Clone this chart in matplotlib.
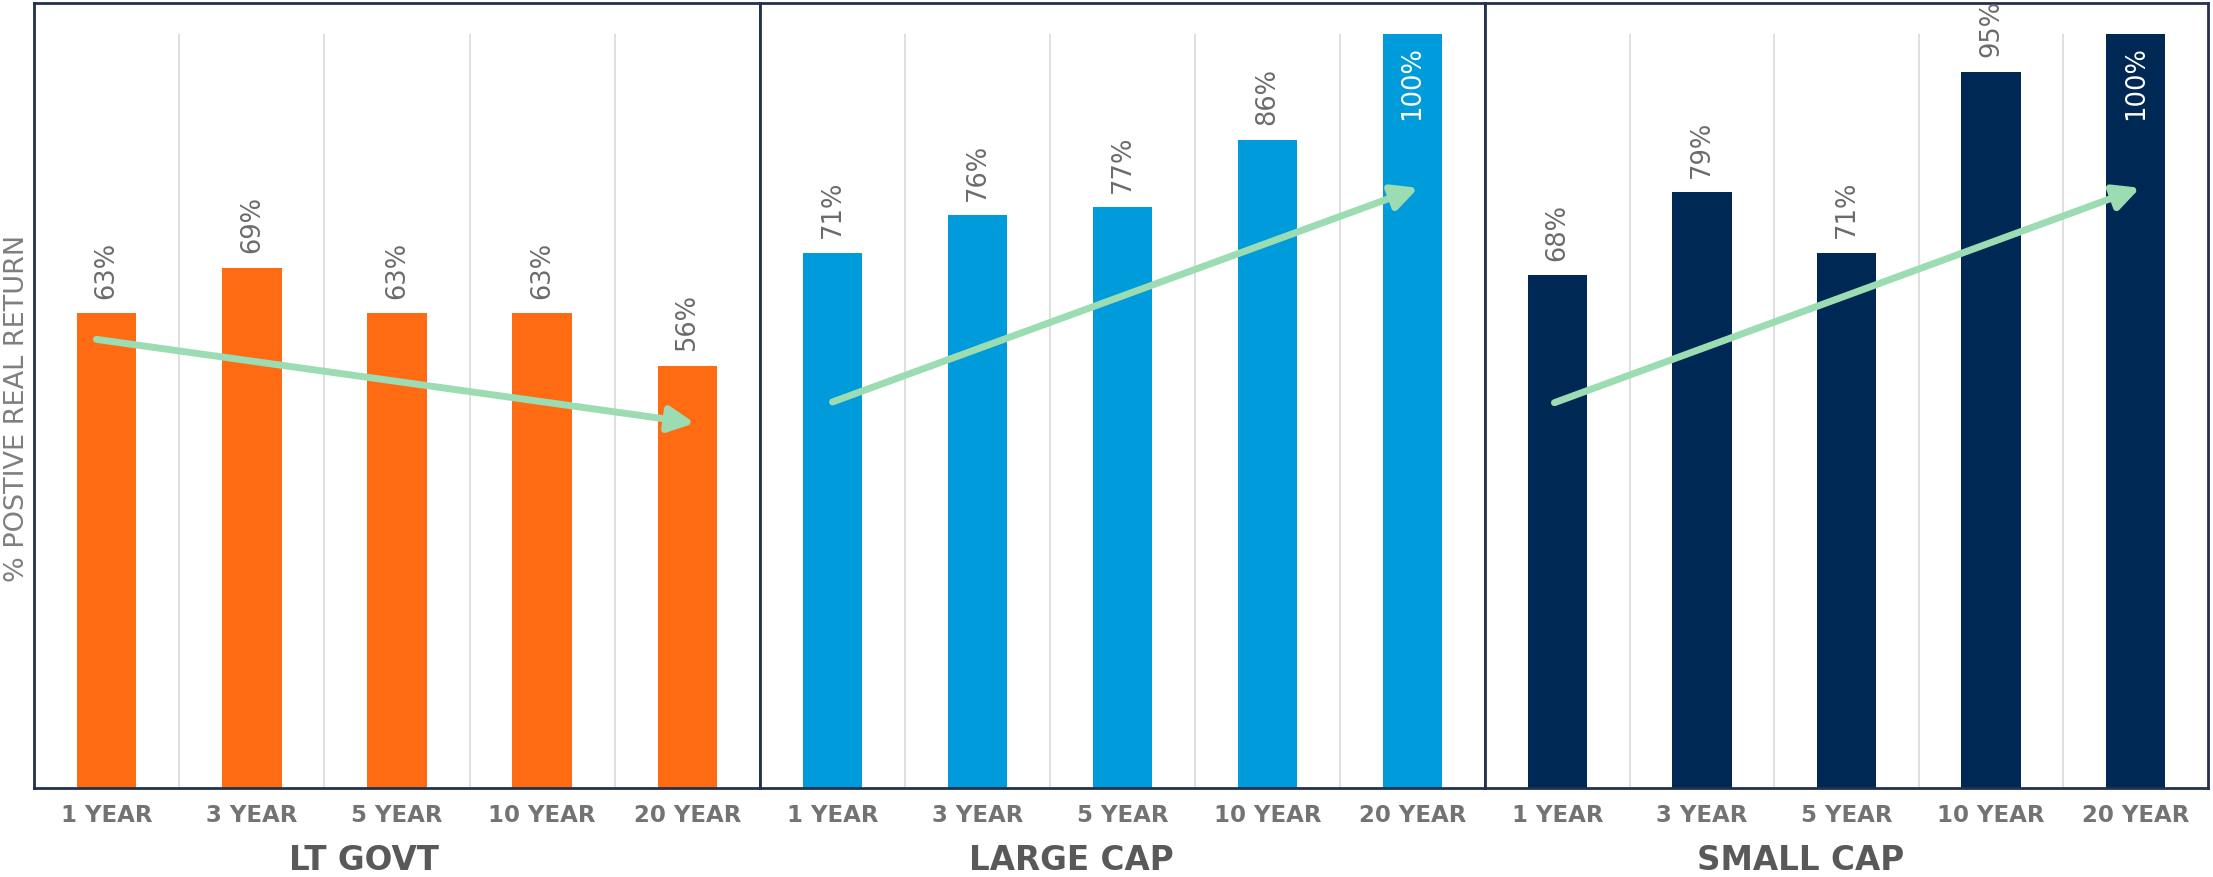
import matplotlib
matplotlib.use('Agg')
import matplotlib.pyplot as plt

# dados
periodos = ['1 YEAR', '3 YEAR', '5 YEAR', '10 YEAR', '20 YEAR']
grupos = ['LT GOVT', 'LARGE CAP', 'SMALL CAP']
lt_govt = [63, 69, 63, 63, 56]
large_cap = [71, 76, 77, 86, 100]
small_cap = [68, 79, 71, 95, 100]
cores = ['#FF6B13', '#009BDB', '#002855']

# setas de tendencia (inicio/fim em coordenadas de dados)
seta_lt = [(-0.07, 59.5), (4.05, 48.4)]
seta_large = [(0.0, 51.2), (4.04, 79.6)]
seta_small = [(-0.02, 51.1), (4.03, 79.6)]

valores = [lt_govt, large_cap, small_cap]
setas = [seta_lt, seta_large, seta_small]

W, H = 2213, 878
fig = plt.figure(figsize=(W / 100, H / 100), dpi=100)

# posicoes dos paineis em pixels [esquerda, direita]
paineis = [(34, 760), (760, 1485), (1485, 2208)]
topo, base = 4, 789
pos_titulo = [0.455, 0.430, 0.436]

borda = '#22314F'
cinza_rotulo = '#6B6B6B'

for i, (x0, x1) in enumerate(paineis):
    ax = fig.add_axes([x0 / W, (H - base) / H, (x1 - x0) / W, (base - topo) / H])
    xs = range(len(periodos))
    ax.bar(xs, valores[i], width=0.41, color=cores[i], zorder=2)
    ax.set_xlim(-0.5, 4.5)
    # 100% fica em y=35px, o topo do quadro sobra um pouco acima
    ax.set_ylim(0, 100 + 31 / 7.54)

    # linhas verticais separando as categorias (so ate 100%)
    ax.vlines([0.5, 1.5, 2.5, 3.5], 0, 100, color='#D9D9D9', lw=1.2, zorder=1)

    for x, v in zip(xs, valores[i]):
        if v >= 100:
            ax.annotate(f'{v}%', (x, v), xytext=(0, -8), textcoords='offset points',
                        rotation=90, ha='center', va='top', fontsize=18.5, color='white')
        else:
            ax.annotate(f'{v}%', (x, v), xytext=(0, 11), textcoords='offset points',
                        rotation=90, ha='center', va='bottom', fontsize=18.5, color=cinza_rotulo)

    (xa, ya), (xb, yb) = setas[i]
    ax.annotate('', xy=(xb, yb), xytext=(xa, ya),
                arrowprops=dict(arrowstyle='-|>', lw=5, color='#9CDCB2',
                                mutation_scale=38, shrinkA=0, shrinkB=0),
                zorder=3)

    ax.set_xticks(list(xs))
    ax.set_xticklabels(periodos, fontsize=16.5, fontweight='bold', color='#737373')
    ax.set_yticks([])
    ax.tick_params(axis='x', length=0, pad=11)
    for s in ax.spines.values():
        s.set_color(borda)
        s.set_linewidth(2)

    ax.text(pos_titulo[i], -(861 - base) / (base - topo), grupos[i], transform=ax.transAxes,
            ha='center', va='center', fontsize=23.5, fontweight='bold', color='#595959')

fig.text(17 / W, 1 - 408 / H, '% POSTIVE REAL RETURN', rotation=90, ha='center', va='center',
         fontsize=19.5, color='#7F7F7F')

fig.savefig('out.png', dpi=100, facecolor='white')
